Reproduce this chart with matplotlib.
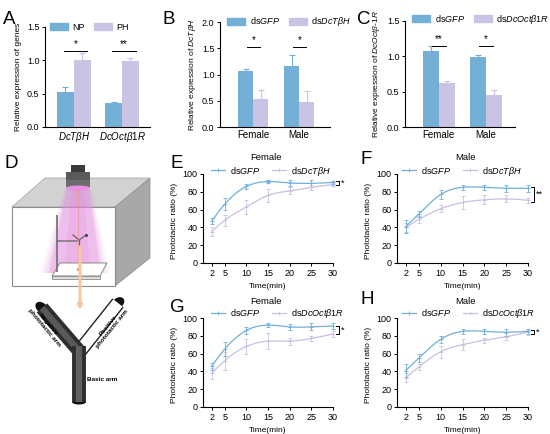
import numpy as np
import matplotlib
matplotlib.use("Agg")
import matplotlib.pyplot as plt
from matplotlib.patches import Polygon, Rectangle, Ellipse, Patch
from matplotlib.lines import Line2D

plt.rcParams['font.family'] = ['Liberation Sans', 'DejaVu Sans']
plt.rcParams['mathtext.fontset'] = 'custom'
plt.rcParams['mathtext.rm'] = 'Liberation Sans'
plt.rcParams['mathtext.it'] = 'Liberation Sans:italic'
plt.rcParams['mathtext.bf'] = 'Liberation Sans:bold'

# ---- data ----
genes = ['$\\mathit{DcT\\beta H}$', '$\\mathit{DcOct\\beta 1R}$']
np_mean = [0.525, 0.36]
np_err = [0.075, 0.02]
ph_mean = [1.0, 0.99]
ph_err = [0.11, 0.04]
a_sig = ['*', '**']

sexes = ['Female', 'Male']
b_gfp = [1.06, 1.16]
b_gfp_err = [0.05, 0.21]
b_tbh = [0.54, 0.48]
b_tbh_err = [0.16, 0.21]
b_sig = ['*', '*']

c_gfp = [1.07, 0.99]
c_gfp_err = [0.07, 0.02]
c_oct = [0.62, 0.46]
c_oct_err = [0.03, 0.07]
c_sig = ['**', '*']

times = [2, 5, 10, 15, 20, 25, 30]
e_gfp = [47, 66, 86, 91.5, 90, 89.5, 90.5]
e_gfp_err = [3, 7, 3, 2, 3, 4, 2]
e_tbh = [35, 48, 63, 76, 81, 85, 88]
e_tbh_err = [5, 6, 8, 7, 4, 3, 2]

f_gfp = [41, 55, 77, 85, 85, 84, 84]
f_gfp_err = [7, 3, 5, 3, 3, 4, 4]
f_tbh = [40, 49, 61, 68, 71, 72, 70.5]
f_tbh_err = [5, 4, 4, 7, 5, 4, 3]

g_gfp = [46, 65, 86, 92, 90, 90, 91]
g_gfp_err = [4, 8, 4, 2, 3, 4, 3]
g_oct = [38, 52, 68, 74, 74, 77, 82]
g_oct_err = [6, 10, 8, 9, 4, 3, 3]

h_gfp = [41, 55, 76, 85, 85, 84, 85]
h_gfp_err = [7, 4, 4, 3, 3, 4, 3]
h_oct = [33, 45, 62, 70, 75, 79, 84]
h_oct_err = [5, 3, 7, 6, 3, 4, 3]

BLUE = '#74b0d6'
PURPLE = '#c9c4e4'
LBLUE = '#6fafdc'
LPURPLE = '#c8c0e2'

W, H = 550, 434
fig = plt.figure(figsize=(W / 100, H / 100), dpi=100)


def px_axes(l, t, r, b):
    return fig.add_axes([l / W, 1 - b / H, (r - l) / W, (b - t) / H])


def style(ax):
    for s in ['top', 'right']:
        ax.spines[s].set_visible(False)
    for s in ['left', 'bottom']:
        ax.spines[s].set_linewidth(0.8)
    ax.tick_params(direction='out', length=2.5, width=0.7, labelsize=6.5, pad=1.5)


def spline(x, y, xs):
    # natural cubic spline through the means
    x = np.asarray(x, float)
    y = np.asarray(y, float)
    n = len(x)
    h = np.diff(x)
    A = np.zeros((n, n))
    r = np.zeros(n)
    A[0, 0] = A[-1, -1] = 1
    for i in range(1, n - 1):
        A[i, i - 1] = h[i - 1]
        A[i, i] = 2 * (h[i - 1] + h[i])
        A[i, i + 1] = h[i]
        r[i] = 3 * ((y[i + 1] - y[i]) / h[i] - (y[i] - y[i - 1]) / h[i - 1])
    c = np.linalg.solve(A, r)
    b = (y[1:] - y[:-1]) / h - h * (2 * c[:-1] + c[1:]) / 3
    d = (c[1:] - c[:-1]) / (3 * h)
    idx = np.clip(np.searchsorted(x, xs) - 1, 0, n - 2)
    dx = xs - x[idx]
    return y[idx] + b[idx] * dx + c[idx] * dx ** 2 + d[idx] * dx ** 3


def bar_panel(ax, cats, v1, e1, v2, e2, sig, w, xlim, ymax, yticks, span,
              ylabel, lab_x, legend_labels, leg_xy):
    x = np.arange(len(cats))
    ax.bar(x - w / 2, v1, w, color=BLUE)
    ax.bar(x + w / 2, v2, w, color=PURPLE)
    ax.errorbar(x - w / 2, v1, yerr=[np.zeros(len(x)), e1], fmt='none',
                ecolor=BLUE, elinewidth=0.8, capsize=2, capthick=0.8)
    ax.errorbar(x + w / 2, v2, yerr=[np.zeros(len(x)), e2], fmt='none',
                ecolor=PURPLE, elinewidth=0.8, capsize=2, capthick=0.8)
    ly = ymax * 0.76
    for i, s in enumerate(sig):
        ax.plot([x[i] - span[0], x[i] + span[1]], [ly, ly], color='black', lw=0.7)
        ax.text(x[i] + (span[1] - span[0]) / 2, ly + ymax * 0.02, s, ha='center',
                va='bottom', fontsize=7)
    ax.set_xlim(*xlim)
    ax.set_ylim(0, ymax)
    ax.set_yticks(yticks)
    ax.set_yticklabels(['%.1f' % t for t in yticks])
    ax.set_xticks(x)
    ax.set_xticklabels(cats)
    ax.set_ylabel(ylabel, fontsize=6)
    ax.yaxis.set_label_coords(lab_x, 0.5)
    style(ax)
    ax.tick_params(axis='x', length=0, pad=2, labelsize=7)
    hs = [Patch(color=BLUE), Patch(color=PURPLE)]
    fig.legend(hs, legend_labels, loc='center left',
               bbox_to_anchor=(leg_xy[0] / W, 1 - leg_xy[1] / H), ncol=2,
               frameon=False, fontsize=6.5, handlelength=2.0, handleheight=0.8,
               columnspacing=1.0, handletextpad=0.5, borderpad=0, borderaxespad=0)


def line_panel(ax, title, title_xy, m1, e1, m2, e2, lab2, leg_xy, bracket, stars):
    xs = np.linspace(2, 30, 300)
    for m, e, c in [(m2, e2, LPURPLE), (m1, e1, LBLUE)]:
        ax.errorbar(times, m, yerr=e, fmt='+', ms=2.5, mew=0.6, color=c,
                    ecolor=c, elinewidth=0.6, capsize=1.2, capthick=0.6, clip_on=False)
        ax.plot(xs, spline(times, m, xs), color=c, lw=0.9, clip_on=False)
    lo, hi = bracket
    ax.plot([30.6, 31.4, 31.4, 30.6], [hi, hi, lo, lo], color='black', lw=0.7,
            clip_on=False)
    ax.text(31.9, (lo + hi) / 2, stars, fontsize=6.5, va='center', ha='left')
    ax.set_xlim(0, 30)
    ax.set_ylim(0, 100)
    ax.set_xticks(times)
    ax.set_yticks([0, 20, 40, 60, 80, 100])
    ax.set_xlabel('Time(min)', fontsize=6)
    ax.set_ylabel('Phototactic ratio (%)', fontsize=6)
    ax.yaxis.set_label_coords(-25 / 130, 0.47)
    style(ax)
    fig.text(title_xy[0] / W, 1 - title_xy[1] / H, title, fontsize=6.8,
             ha='center', va='center')
    hs = [Line2D([0], [0], color=LBLUE, lw=0.9, marker='+', ms=3, mew=0.6),
          Line2D([0], [0], color=LPURPLE, lw=0.9, marker='+', ms=3, mew=0.6)]
    fig.legend(hs, ['ds$\\mathit{GFP}$', lab2], loc='center left',
               bbox_to_anchor=(leg_xy[0] / W, 1 - leg_xy[1] / H), ncol=2,
               frameon=False, fontsize=6.5, handlelength=1.6, columnspacing=1.3,
               handletextpad=0.5, borderpad=0, borderaxespad=0)


# ---- A ----
axA = px_axes(45, 27, 150, 127)
bar_panel(axA, genes, np_mean, np_err, ph_mean, ph_err, a_sig, 0.35, (-0.6, 1.58),
          1.5, [0, 0.5, 1.0, 1.5], (0.2, 0.28), 'Relative expression of genes',
          -23 / 105, ['NP', 'PH'], (50, 27))

# ---- B ----
axB = px_axes(220, 22, 330, 127.3)
bar_panel(axB, sexes, b_gfp, b_gfp_err, b_tbh, b_tbh_err, b_sig, 0.33, (-0.72, 1.67),
          2.0, [0, 0.5, 1.0, 1.5, 2.0], (0.14, 0.15),
          'Relative expression of $\\mathit{DcT\\beta H}$', -22 / 110,
          ['ds$\\mathit{GFP}$', 'ds$\\mathit{DcT\\beta H}$'], (227, 22))

# ---- C ----
axC = px_axes(405, 20.5, 515, 127.3)
bar_panel(axC, sexes, c_gfp, c_gfp_err, c_oct, c_oct_err, c_sig, 0.34, (-0.72, 1.62),
          1.5, [0, 0.5, 1.0, 1.5], (0.15, 0.15),
          'Relative expression of $\\mathit{DcOct\\beta}$-$\\mathit{1R}$', -23 / 110,
          ['ds$\\mathit{GFP}$', 'ds$\\mathit{DcOct\\beta 1R}$'], (412, 19))

# ---- E-H ----
tbh_lab = 'ds$\\mathit{DcT\\beta H}$'
oct_lab = 'ds$\\mathit{DcOct\\beta 1R}$'
axE = px_axes(203, 174, 333, 263)
line_panel(axE, 'Female', (266, 158), e_gfp, e_gfp_err, e_tbh, e_tbh_err, tbh_lab,
           (211, 171), (87.5, 92.5), '*')
axF = px_axes(397, 174, 528, 263)
line_panel(axF, 'Male', (465, 158), f_gfp, f_gfp_err, f_tbh, f_tbh_err, tbh_lab,
           (402, 171), (69, 85), '**')
axG = px_axes(203, 318, 333, 407)
line_panel(axG, 'Female', (266, 301), g_gfp, g_gfp_err, g_oct, g_oct_err, oct_lab,
           (211, 314), (82, 91.5), '*')
axH = px_axes(397, 318, 528, 407)
line_panel(axH, 'Male', (465, 301), h_gfp, h_gfp_err, h_oct, h_oct_err, oct_lab,
           (402, 314), (81.5, 87), '*')

# ---- D: phototaxis setup sketch (pixel coordinates) ----
axD = px_axes(0, 140, 168, 434)
axD.set_xlim(0, 168)
axD.set_ylim(434, 140)
axD.axis('off')

axD.add_patch(Polygon([(12, 207), (115, 207), (150, 178), (45, 178)],
                      facecolor='#d2d2d2', edgecolor='#a0a0a0', lw=0.5))
axD.add_patch(Polygon([(115, 207), (150, 178), (150, 258), (115, 286)],
                      facecolor='#a8a8a8', edgecolor='#909090', lw=0.5))
axD.add_patch(Rectangle((12, 207), 103, 79, facecolor='white', edgecolor='#8a8a8a', lw=0.8))

# light cone with glow
for grow, al in [(9, 0.08), (6, 0.12), (3, 0.18), (0, 0.35)]:
    axD.add_patch(Polygon([(67 - grow / 3, 189), (89 + grow / 3, 189),
                           (101 + grow, 273), (49 - grow, 273)],
                          facecolor='#e58fe0', edgecolor='none', alpha=al))
axD.add_patch(Polygon([(72, 189), (84, 189), (90, 273), (64, 273)],
                      facecolor='#e07ad8', edgecolor='none', alpha=0.15))

# lamp
axD.add_patch(Rectangle((71, 165), 14, 8, facecolor='#3a3a3a', edgecolor='none'))
axD.add_patch(Rectangle((66, 172), 24, 15, facecolor='#5a5a5a', edgecolor='none'))
axD.add_patch(Rectangle((66, 180), 24, 7, facecolor='#6c6c6c', edgecolor='none'))
axD.add_patch(Ellipse((78, 188), 24, 5, facecolor='#e890e2', edgecolor='none'))

# platform
axD.add_patch(Polygon([(52, 276), (100, 276), (107, 263), (60, 263)],
                      facecolor='white', edgecolor='#777777', lw=0.6))
axD.add_patch(Polygon([(52, 276), (100, 276), (100, 279), (52, 279)],
                      facecolor='#dddddd', edgecolor='#777777', lw=0.5))

# stand with small Y-maze
axD.plot([57, 57], [215, 272], color='#777777', lw=1.3, solid_capstyle='butt')
axD.plot([57, 77], [241, 241], color='#777777', lw=1.1)
axD.plot([79, 73], [240, 235], color='#666666', lw=0.9)
axD.plot([79, 86], [240, 235], color='#666666', lw=0.9)
axD.plot([79, 79], [240, 250], color='#666666', lw=0.9)
axD.plot([86], [234.5], 'o', ms=1.2, color='#444444')

# dotted beam and orange arrow
axD.plot([78, 78], [190, 266], color='#f08a5a', lw=0.7, ls=':')
axD.plot([78], [269], 's', ms=1.3, color='#f08a5a')
axD.annotate('', xy=(80, 313), xytext=(80, 244),
             arrowprops=dict(arrowstyle='-|>', color='#f7c7a2', lw=2.2,
                             mutation_scale=6))

# Y-maze tubes
axD.plot([118, 79], [303, 352], color='#222222', lw=10.5, solid_capstyle='butt')
axD.plot([118, 79], [303, 352], color='white', lw=8.5, solid_capstyle='butt')
axD.plot([42, 80], [308, 352], color='#2e2e2e', lw=10, solid_capstyle='butt')
axD.plot([42, 80], [308, 352], color='#595959', lw=4.5, solid_capstyle='butt')
axD.plot([79, 79], [346, 402], color='#2e2e2e', lw=10, solid_capstyle='butt')
axD.plot([79, 79], [346, 402], color='#606060', lw=4.5, solid_capstyle='butt')
axD.add_patch(Ellipse((79, 350), 12, 10, facecolor='#bdbdbd', edgecolor='none', alpha=0.8))
axD.add_patch(Ellipse((42, 308), 15, 10, angle=40, facecolor='#111111', edgecolor='none'))
axD.add_patch(Ellipse((118, 303), 14, 10, angle=-38, facecolor='#111111', edgecolor='none'))
axD.add_patch(Ellipse((79, 402), 14, 5, facecolor='#111111', edgecolor='none'))

axD.text(46, 326, 'Negative\nphototactic arm', rotation=-50, fontsize=4.6,
         fontweight='bold', ha='center', va='center', linespacing=1.1)
axD.text(110, 327, 'Positive\nphototactic arm', rotation=51, fontsize=4.6,
         fontweight='bold', ha='center', va='center', linespacing=1.1)
axD.text(87, 379, 'Basic arm', fontsize=4.6, fontweight='bold', ha='left', va='center')

# ---- panel letters ----
for lab, x, y in [('A', 3, 19), ('B', 163, 20), ('C', 357, 20), ('D', 5, 164),
                  ('E', 170, 163), ('F', 360, 159), ('G', 170, 307), ('H', 360, 300)]:
    fig.text(x / W, 1 - y / H, lab, fontsize=13.5, ha='left', va='center')

fig.savefig('out.png', dpi=100)
